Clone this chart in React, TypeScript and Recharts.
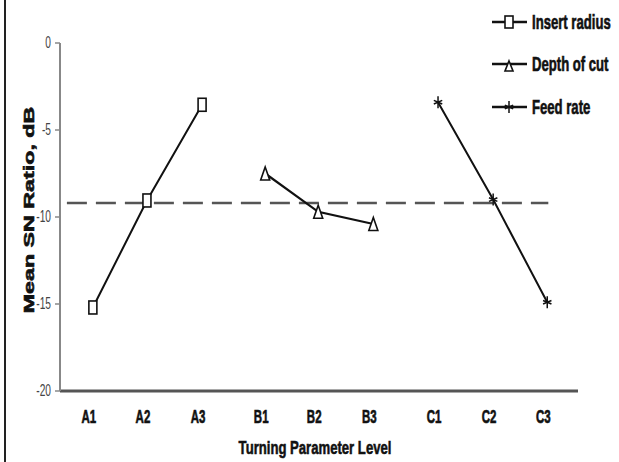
import React from 'react';
import { LineChart, Line, XAxis, YAxis, ReferenceLine, Legend } from 'recharts';

const levels = ['A1', 'A2', 'A3', 'B1', 'B2', 'B3', 'C1', 'C2', 'C3'];
const levelPos = [0.62, 1.64, 2.68, 3.87, 4.87, 5.91, 7.13, 8.17, 9.19];
const insertRadius = [-15.2, -9.05, -3.55];
const depthOfCut = [-7.5, -9.7, -10.4];
const feedRate = [-3.4, -9.0, -14.9];
const meanSN = -9.2;
const meanSpan = [0.13, 9.21];
const yTicks = [-20, -15, -10, -5, 0];
const seriesNames = ['Insert radius', 'Depth of cut', 'Feed rate'];

const FONT = "'Liberation Sans', Arial, sans-serif";

const irData = insertRadius.map((y, i) => ({ x: levelPos[i], y }));
const docData = depthOfCut.map((y, i) => ({ x: levelPos[i + 3], y }));
const frData = feedRate.map((y, i) => ({ x: levelPos[i + 6], y }));

const Square = ({ cx, cy, w = 8, h = 13 }: any) => (
  <rect x={cx - w / 2} y={cy - h / 2} width={w} height={h} fill="#fff" stroke="#111" strokeWidth={1.6} />
);
const Tri = ({ cx, cy, w = 9, h = 13 }: any) => (
  <path d={`M${cx},${cy - h / 2} L${cx + w / 2},${cy + h / 2} L${cx - w / 2},${cy + h / 2} Z`} fill="#fff" stroke="#111" strokeWidth={1.6} />
);
const Star = ({ cx, cy, s = 6 }: any) => (
  <g stroke="#111" strokeWidth={1.5}>
    <line x1={cx} y1={cy - s} x2={cx} y2={cy + s} />
    <line x1={cx - s * 0.7} y1={cy - s * 0.3} x2={cx + s * 0.7} y2={cy + s * 0.3} />
    <line x1={cx - s * 0.7} y1={cy + s * 0.3} x2={cx + s * 0.7} y2={cy - s * 0.3} />
  </g>
);

const XTick = ({ x, y, payload }: any) => {
  const idx = levelPos.indexOf(payload.value);
  return (
    <g transform={`translate(${x - 4},${y + 30})`}>
      <text transform="scale(0.82,1.35)" textAnchor="middle" fontFamily={FONT} fontWeight="bold" fontSize={14} fill="#111" stroke="#111" strokeWidth={0.5}>
        {levels[idx]}
      </text>
    </g>
  );
};

const YTick = ({ x, y, payload }: any) => (
  <g transform={`translate(${x - 2},${y + 5})`}>
    <text transform="scale(0.85,1.35)" textAnchor="end" fontFamily={FONT} fontSize={12} fill="#444">
      {payload.value}
    </text>
  </g>
);

const XTitle = (props: any) => {
  const vb = props.viewBox || {};
  const cx = vb.x + vb.width / 2 - 4;
  return (
    <g transform={`translate(${cx},${vb.y + 63})`}>
      <text transform="scale(0.82,1.2)" textAnchor="middle" fontFamily={FONT} fontWeight="bold" fontSize={16} fill="#111" stroke="#111" strokeWidth={0.5}>
        Turning Parameter Level
      </text>
    </g>
  );
};

const YTitle = () => (
  <g transform={`translate(34,210) rotate(-90) scale(1.55,1)`}>
    <text textAnchor="middle" fontFamily={FONT} fontWeight="bold" fontSize={15} fill="#111" stroke="#111" strokeWidth={0.6}>
      Mean SN Ratio, dB
    </text>
  </g>
);

const LegendBox = () => {
  const rows = [22, 64, 107];
  return (
    <svg width={139} height={125}>
      {seriesNames.map((name, i) => (
        <g key={name}>
          <line x1={12} y1={rows[i]} x2={47} y2={rows[i]} stroke="#111" strokeWidth={2.5} />
          {i === 0 && <Square cx={29} cy={rows[i]} w={8} h={12} />}
          {i === 1 && <Tri cx={29} cy={rows[i] + 2} w={8} h={10} />}
          {i === 2 && <Star cx={29} cy={rows[i]} s={6} />}
          <g transform={`translate(52,${rows[i] + 7})`}>
            <text transform="scale(0.82,1.3)" fontFamily={FONT} fontWeight="bold" fontSize={16} fill="#111" stroke="#111" strokeWidth={0.5}>
              {name}
            </text>
          </g>
        </g>
      ))}
    </svg>
  );
};

export default function App() {
  return (
    <div style={{ position: 'absolute', left: 0, top: 0, width: 619, height: 462, background: '#fff', overflow: 'hidden' }}>
      <div style={{ position: 'absolute', left: 4, top: 0, width: 2, height: 462, background: '#222' }} />
      <LineChart width={619} height={462} margin={{ top: 43, right: 41, bottom: 11, left: 10 }}>
        <XAxis
          type="number"
          dataKey="x"
          domain={[0, 9.77]}
          ticks={levelPos}
          interval={0}
          allowDataOverflow
          axisLine={{ stroke: '#555', strokeWidth: 3 }}
          tickLine={false}
          tickSize={0}
          tick={<XTick />}
          height={60}
          label={XTitle}
        />
        <YAxis
          type="number"
          domain={[-20, 0]}
          ticks={yTicks}
          interval={0}
          width={50}
          axisLine={{ stroke: '#888', strokeWidth: 2 }}
          tickLine={{ stroke: '#888', strokeWidth: 1.5 }}
          tickSize={5}
          tick={<YTick />}
          label={YTitle}
        />
        <ReferenceLine
          segment={[{ x: meanSpan[0], y: meanSN }, { x: meanSpan[1], y: meanSN }]}
          stroke="#555"
          strokeWidth={2.5}
          strokeDasharray="20 9"
        />
        <Line data={irData} dataKey="y" name={seriesNames[0]} stroke="#111" strokeWidth={2} isAnimationActive={false}
          dot={(p: any) => <Square key={`ir${p.index}`} cx={p.cx} cy={p.cy} />} />
        <Line data={docData} dataKey="y" name={seriesNames[1]} stroke="#111" strokeWidth={2.2} isAnimationActive={false}
          dot={(p: any) => <Tri key={`dc${p.index}`} cx={p.cx} cy={p.cy} />} />
        <Line data={frData} dataKey="y" name={seriesNames[2]} stroke="#111" strokeWidth={2} isAnimationActive={false}
          dot={(p: any) => <Star key={`fr${p.index}`} cx={p.cx} cy={p.cy} />} />
        <Legend
          layout="horizontal"
          verticalAlign="middle"
          align="center"
          content={() => <LegendBox />}
          wrapperStyle={{ position: 'absolute', top: 0, left: 480, width: 139, height: 125 }}
        />
      </LineChart>
    </div>
  );
}
